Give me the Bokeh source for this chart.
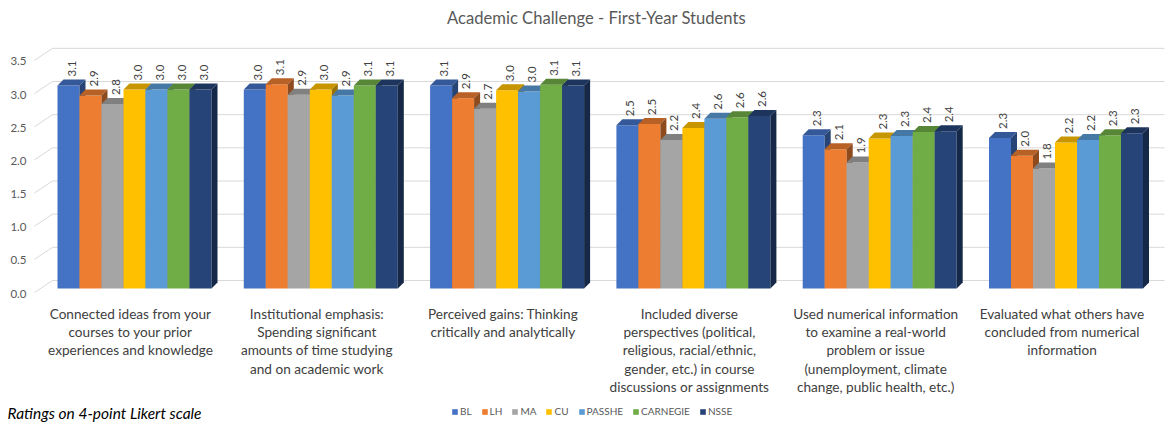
import math
from bokeh.plotting import figure
from bokeh.models import (ColumnDataSource, Label, Legend, LegendItem, Range1d)
from bokeh.core.properties import value
from bokeh.embed import file_html
from bokeh.resources import INLINE

# ---------------- data ----------------
categories = [
    "Connected ideas from your\ncourses to your prior\nexperiences and knowledge",
    "Institutional emphasis:\nSpending significant\namounts of time studying\nand on academic work",
    "Perceived gains: Thinking\ncritically and analytically",
    "Included diverse\nperspectives (political,\nreligious, racial/ethnic,\ngender, etc.) in course\ndiscussions or assignments",
    "Used numerical information\nto examine a real-world\nproblem or issue\n(unemployment, climate\nchange, public health, etc.)",
    "Evaluated what others have\nconcluded from numerical\ninformation",
]
series = ["BL", "LH", "MA", "CU", "PASSHE", "CARNEGIE", "NSSE"]
BL       = [3.06, 3.00, 3.06, 2.46, 2.31, 2.27]
LH       = [2.91, 3.08, 2.87, 2.48, 2.10, 2.00]
MA       = [2.78, 2.92, 2.71, 2.24, 1.90, 1.81]
CU       = [3.00, 3.00, 2.99, 2.42, 2.26, 2.20]
PASSHE   = [3.00, 2.91, 2.97, 2.56, 2.30, 2.24]
CARNEGIE = [3.00, 3.06, 3.07, 2.58, 2.36, 2.31]
NSSE     = [3.00, 3.06, 3.06, 2.60, 2.37, 2.34]
values = [BL, LH, MA, CU, PASSHE, CARNEGIE, NSSE]
colors = ["#4472C4", "#ED7D31", "#A5A5A5", "#FFC000", "#5B9BD5", "#70AD47", "#264478"]
y_ticks = [0, 0.5, 1.0, 1.5, 2.0, 2.5, 3.0, 3.5]
title_text = "Academic Challenge - First-Year Students"
footnote = "Ratings on 4-point Likert scale"

FONT = "Lato"
TXT = "#404040"

# ---------------- layout helpers (pixel -> data) ----------------
W, H = 1168, 422
OX, OY = 1, 1                 # where the figure lands on the page
SX, SY = 186.3, 66.33         # px per category / per rating unit
CX0, FLOOR = 135.0, 289.0     # page x of first category centre, page y of 0


def X(px):
    return (px - CX0) / SX


def Y(py):
    return (FLOOR - py) / SY


def shade(hx, f):
    r, g, b = (int(hx[i:i + 2], 16) for i in (1, 3, 5))
    return "#%02x%02x%02x" % (int(r * f), int(g * f), int(b * f))


p = figure(width=W, height=H, x_range=Range1d(X(OX), X(OX + W)),
           y_range=Range1d(Y(OY + H), Y(OY)),
           output_backend="svg", toolbar_location=None,
           min_border=0, min_border_left=0, min_border_right=0,
           min_border_top=0, min_border_bottom=0)
p.outline_line_color = None
p.axis.visible = False
p.grid.visible = False

# walls: gridlines at the tick values (back wall raised by the 3-D depth)
depth_y = 8 / SY
nt = len(y_ticks)
p.segment(x0=[X(53)] * nt, x1=[X(1165)] * nt,
          y0=[t + depth_y for t in y_ticks], y1=[t + depth_y for t in y_ticks],
          line_color="#D9D9D9", line_width=1)
p.segment(x0=[X(35)] * nt, x1=[X(53)] * nt,
          y0=[t - 4 / SY for t in y_ticks], y1=[t + depth_y for t in y_ticks],
          line_color="#D9D9D9", line_width=1)
p.text(x=[X(27)] * nt, y=y_ticks, text=["%.1f" % t for t in y_ticks], y_offset=5,
       text_align="right", text_baseline="middle",
       text_font=value(FONT), text_font_size="11.5px", text_color="#595959")

n = len(series)
n_cat = len(categories)
bw = 22 / SX
dx, dy = 6 / SX, 6 / SY
items = []
for i, (name, vals, col) in enumerate(zip(series, values, colors)):
    off = (i - (n - 1) / 2) * bw
    xc = [c + off for c in range(n_cat)]
    src = ColumnDataSource(dict(x=xc, top=vals, lab=["%.1f" % v for v in vals]))
    r = p.vbar(x="x", top="top", width=bw, source=src, fill_color=col, line_color=None)
    xl = [x - bw / 2 for x in xc]
    xr = [x + bw / 2 for x in xc]
    p.patches(xs=[[a, b, b + dx, a + dx] for a, b in zip(xl, xr)],
              ys=[[t, t, t + dy, t + dy] for t in vals],
              fill_color=shade(col, 0.78), line_color=None)
    p.patches(xs=[[b, b + dx, b + dx, b] for b in xr],
              ys=[[0, dy, t + dy, t] for t in vals],
              fill_color=shade(col, 0.6), line_color=None)
    p.text(x="x", y="top", text="lab", source=src, angle=math.pi / 2,
           text_align="left", text_baseline="middle", x_offset=3, y_offset=-9,
           text_font=value(FONT), text_font_size="11.5px", text_color=TXT)
    items.append(LegendItem(label=name, renderers=[r]))

for i, c in enumerate(categories):
    p.add_layout(Label(x=i + X(131) - X(135), y=Y(306), text=c, text_align="center",
                       text_baseline="top", text_font=FONT, text_font_size="13.6px",
                       text_color=TXT, text_line_height=1.15))

p.add_layout(Label(x=X(597), y=Y(18), text=title_text, text_align="center",
                   text_baseline="middle", text_font=FONT, text_font_size="16.6px",
                   text_color="#595959"))
p.add_layout(Label(x=X(8), y=Y(413), text=footnote, text_align="left",
                   text_baseline="middle", text_font=FONT, text_font_size="15.5px",
                   text_font_style="italic", text_color="#000000"))

legend = Legend(items=items, orientation="horizontal",
                location=(452 - OX, 5),
                label_text_font=FONT, label_text_font_size="10px", label_text_color="#595959",
                glyph_width=7, glyph_height=7, label_standoff=2, spacing=9, padding=0,
                margin=0, border_line_color=None, background_fill_alpha=0,
                label_height=10, label_width=0)
p.add_layout(legend, "center")

open("out.html", "w").write(file_html(p, INLINE))
